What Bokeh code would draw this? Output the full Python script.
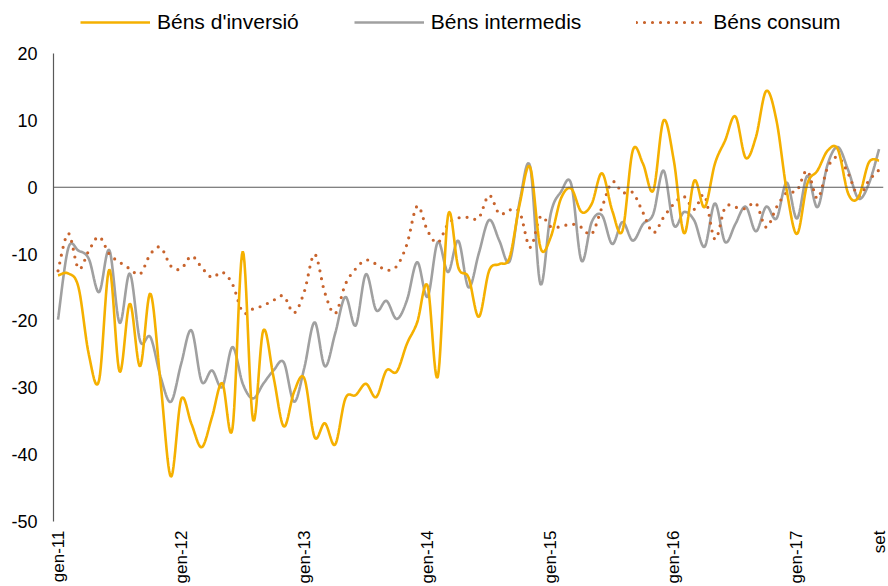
import numpy as np
from bokeh.plotting import figure
from bokeh.models import Range1d, FixedTicker, Legend, LegendItem, Span
from bokeh.embed import file_html
from bokeh.resources import INLINE

# ---- data (monthly, gen-11 .. set-17) ----
inversio = [-13.2, -12.9, -15.0, -25.0, -28.9, -12.3, -27.6, -17.4, -26.8, -15.9,
            -29.4, -43.3, -31.7, -35.4, -38.9, -34.4, -29.3, -36.1, -9.6, -34.8,
            -21.4, -28.4, -35.8, -30.6, -28.6, -37.4, -35.3, -38.5, -31.6, -31.1,
            -29.4, -31.4, -27.4, -27.6, -23.4, -20.2, -14.7, -28.4, -4.2, -12.0,
            -13.5, -19.4, -12.5, -11.5, -10.5, -2.4, 3.0, -9.0, -7.5, -1.7,
            -0.2, -3.7, -2.5, 2.1, -3.5, -6.5, 5.5, 3.5, -0.5, 10.0,
            4.0, -6.9, 1.0, -3.0, 3.5, 7.0, 10.6, 4.4, 7.5, 14.4,
            10.0, -0.5, -7.0, 0.5, 2.5, 5.5, 5.6, -1.0, -1.5, 3.7,
            4.0]
intermedis = [-19.8, -9.1, -9.5, -10.7, -15.7, -9.4, -20.3, -12.9, -23.0, -22.4,
              -28.4, -32.1, -26.4, -21.4, -29.1, -27.4, -29.9, -23.9, -29.4, -31.6,
              -29.4, -27.4, -26.2, -32.1, -27.0, -20.2, -26.8, -21.9, -16.4, -20.7,
              -13.0, -18.4, -17.0, -19.7, -16.9, -11.2, -16.4, -8.2, -12.7, -8.0,
              -15.0, -9.9, -4.9, -8.0, -11.1, -2.0, 3.1, -14.5, -4.0, -0.7,
              0.5, -11.0, -5.2, -4.2, -8.5, -5.2, -8.0, -5.5, -4.0, 2.5,
              -5.7, -3.7, -5.0, -8.9, -2.4, -8.2, -5.5, -2.9, -6.6, -2.9,
              -4.7, 0.7, -4.7, 1.7, -3.0, 3.5, 6.0, 2.5, -1.7, 0.5,
              5.7]
consum = [-12.5, -6.9, -12.2, -9.5, -7.4, -10.0, -11.2, -12.2, -13.0, -10.0,
          -9.0, -11.8, -12.2, -10.3, -12.0, -13.5, -12.7, -14.5, -18.7, -18.2,
          -17.7, -16.9, -16.3, -18.8, -15.6, -10.0, -15.8, -18.9, -14.5, -12.2,
          -10.9, -11.5, -12.4, -11.8, -8.5, -2.8, -6.5, -8.3, -5.5, -4.6,
          -4.5, -4.6, -1.2, -4.0, -3.4, -3.8, -9.0, -4.4, -5.9, -5.9,
          -5.5, -6.0, -7.0, -3.0, 0.8, -0.8, -0.8, -3.8, -6.8, -4.5,
          -2.5, -1.4, -3.3, -1.2, -7.8, -3.0, -3.0, -3.2, -2.4, -6.0,
          -3.0, -0.8, -0.5, 2.5, -1.7, 3.0, 4.5, 2.0, -1.3, 1.0,
          2.6]
months = list(range(len(inversio)))

series_names = ["Béns d'inversió", "Béns intermedis", "Béns consum"]
x_tick_pos = [0, 12, 24, 36, 48, 60, 72, 80]
x_tick_labels = ["gen-11", "gen-12", "gen-13", "gen-14", "gen-15", "gen-16", "gen-17", "set"]
y_tick_pos = [20, 10, 0, -10, -20, -30, -40, -50]
y_tick_labels = ["20", "10", "0", "-10", "-20", "-30", "-40", "-50"]
y_axis_min, y_axis_max = -50, 20


def smooth(xs, ys, steps=12):
    """Catmull-Rom rendering of the data points (Excel style smoothed line)."""
    xs = np.asarray(xs, float)
    ys = np.asarray(ys, float)
    n = len(xs)
    ox, oy = [], []
    for i in range(n - 1):
        p0 = max(i - 1, 0)
        p3 = min(i + 2, n - 1)
        x0, x1, x2, x3 = xs[p0], xs[i], xs[i + 1], xs[p3]
        y0, y1, y2, y3 = ys[p0], ys[i], ys[i + 1], ys[p3]
        cx1, cy1 = x1 + (x2 - x0) / 6, y1 + (y2 - y0) / 6
        cx2, cy2 = x2 - (x3 - x1) / 6, y2 - (y3 - y1) / 6
        t = np.linspace(0, 1, steps, endpoint=False)
        a = (1 - t) ** 3
        b = 3 * (1 - t) ** 2 * t
        c = 3 * (1 - t) * t ** 2
        d = t ** 3
        ox.extend(a * x1 + b * cx1 + c * cx2 + d * x2)
        oy.extend(a * y1 + b * cy1 + c * cy2 + d * y2)
    ox.append(xs[-1])
    oy.append(ys[-1])
    return ox, oy


FONT = "Liberation Sans"

# frame spans the whole top of the figure so the legend (drawn inside it) is not clipped;
# the y axis line itself is limited to -50..20 with axis bounds
p = figure(width=888, height=586, output_backend="svg", toolbar_location=None,
           x_range=Range1d(-0.44, 80.43), y_range=Range1d(-50, 27.93),
           min_border_left=53, min_border_right=5, min_border_top=0, min_border_bottom=65)
p.outline_line_color = None
p.xgrid.visible = False
p.ygrid.visible = False
p.background_fill_color = "white"

zero = Span(location=0, dimension="width", line_color="#595959", line_width=1.2)
p.add_layout(zero)

sx, sy = smooth(months, intermedis)
r_int = p.line(sx, sy, line_color="#A0A0A0", line_width=2.6)
sx, sy = smooth(months, consum)
r_con = p.line(sx, sy, line_color="#C8642D", line_width=3.2, line_dash="0 8", line_cap="round")
sx, sy = smooth(months, inversio)
r_inv = p.line(sx, sy, line_color="#F5B000", line_width=2.6)

# axes
p.xaxis.ticker = FixedTicker(ticks=x_tick_pos)
p.xaxis.major_label_overrides = dict(zip(x_tick_pos, x_tick_labels))
p.xaxis.major_label_orientation = np.pi / 2
p.xaxis.axis_line_color = None
p.xaxis.major_tick_line_color = None
p.xaxis.major_tick_in = 0
p.xaxis.major_tick_out = 0
p.xaxis.minor_tick_line_color = None
p.xaxis.minor_tick_in = 0
p.xaxis.minor_tick_out = 0
p.xaxis.major_label_standoff = 9
p.xaxis.major_label_text_font = FONT
p.xaxis.major_label_text_font_size = "17px"
p.xaxis.major_label_text_color = "#000000"

p.yaxis.ticker = FixedTicker(ticks=y_tick_pos)
p.yaxis.bounds = (y_axis_min, y_axis_max)
p.yaxis.major_label_overrides = dict(zip(y_tick_pos, y_tick_labels))
p.yaxis.axis_line_color = "#595959"
p.yaxis.axis_line_width = 1.2
p.yaxis.major_tick_line_color = None
p.yaxis.major_tick_in = 0
p.yaxis.major_tick_out = 0
p.yaxis.minor_tick_line_color = None
p.yaxis.major_label_standoff = 16
p.yaxis.major_label_text_font = FONT
p.yaxis.major_label_text_font_size = "18px"
p.yaxis.major_label_text_color = "#000000"

legend = Legend(items=[LegendItem(label=series_names[0], renderers=[r_inv]),
                       LegendItem(label=series_names[1], renderers=[r_int]),
                       LegendItem(label=series_names[2], renderers=[r_con])],
                orientation="horizontal", location=(27, 487),
                label_text_font=FONT, label_text_font_size="21px", label_text_color="#000000",
                glyph_width=70, glyph_height=20, label_standoff=7, spacing=55,
                border_line_color=None, background_fill_alpha=0, padding=0, margin=0)
p.add_layout(legend, "center")

open("out.html", "w").write(file_html(p, INLINE))
